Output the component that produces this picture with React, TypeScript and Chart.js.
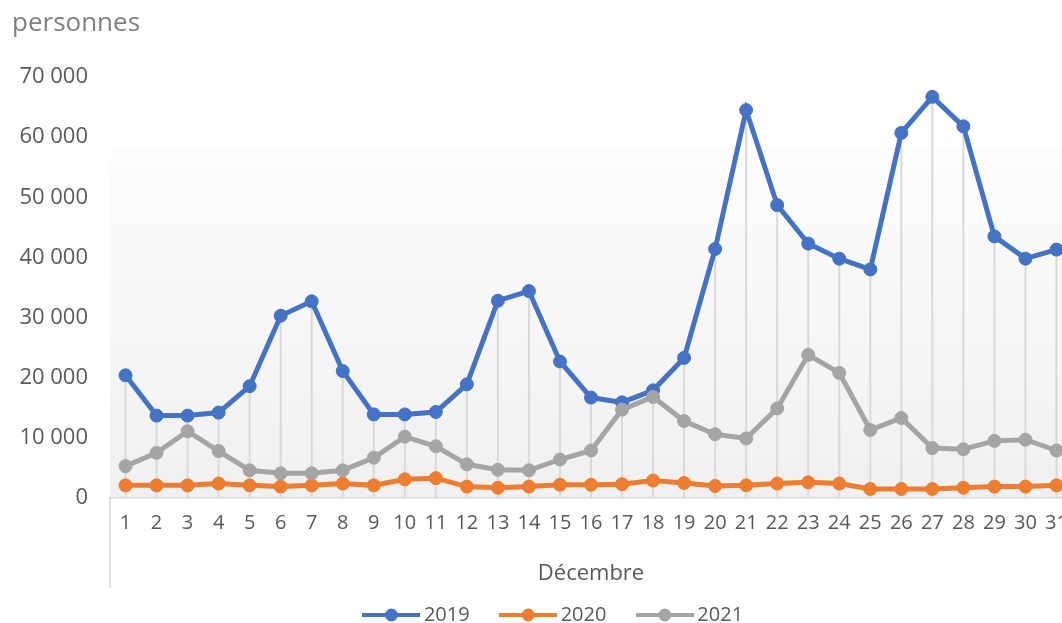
import React, { useEffect, useRef } from 'react';
import { Chart, registerables } from 'chart.js';

Chart.register(...registerables);

const days = ['1', '2', '3', '4', '5', '6', '7', '8', '9', '10', '11', '12', '13', '14', '15', '16', '17', '18', '19', '20', '21', '22', '23', '24', '25', '26', '27', '28', '29', '30', '31'];

const values2019 = [20400, 13700, 13700, 14200, 18600, 30300, 32700, 21100, 13900, 13900, 14300, 18900, 32800, 34400, 22700, 16700, 15900, 17900, 23300, 41400, 64500, 48700, 42300, 39800, 38000, 60700, 66700, 61800, 43500, 39800, 41300];
const values2020 = [2100, 2100, 2100, 2400, 2100, 1900, 2100, 2400, 2100, 3100, 3300, 1900, 1700, 1900, 2200, 2200, 2300, 2900, 2500, 2000, 2100, 2400, 2600, 2400, 1500, 1500, 1500, 1700, 1900, 1900, 2100];
const values2021 = [5300, 7500, 11100, 7800, 4600, 4100, 4100, 4600, 6700, 10200, 8600, 5600, 4700, 4600, 6400, 7900, 14700, 16800, 12800, 10600, 9900, 14900, 23800, 20800, 11300, 13300, 8300, 8100, 9500, 9700, 7900];

const seriesLabels = ['2019', '2020', '2021'];
const seriesColors = ['#4472C4', '#ED7D31', '#A5A5A5'];

const yTicksMax = 70000;
const yStep = 10000;

const FONT = "'Open Sans', 'DejaVu Sans', sans-serif";
const TEXT = '#595959';

function fmt(v: number): string {
  return String(v).replace(/\B(?=(\d{3})+(?!\d))/g, ' ');
}

function legendImage(color: string): HTMLCanvasElement {
  const c = document.createElement('canvas');
  c.width = 58;
  c.height = 16;
  const g = c.getContext('2d')!;
  g.strokeStyle = color;
  g.lineWidth = 4;
  g.beginPath();
  g.moveTo(0, 8);
  g.lineTo(58, 8);
  g.stroke();
  g.fillStyle = color;
  g.beginPath();
  g.arc(29, 8, 6.5, 0, Math.PI * 2);
  g.fill();
  return c;
}

const backgroundPlugin = {
  id: 'plotBg',
  beforeDraw(chart: any) {
    const { ctx, chartArea } = chart;
    const top = chartArea.top + (chartArea.bottom - chartArea.top) * 0.1714;
    const grad = ctx.createLinearGradient(0, top, 0, chartArea.bottom);
    grad.addColorStop(0, '#fdfdfd');
    grad.addColorStop(1, '#f0f0f0');
    ctx.save();
    ctx.fillStyle = grad;
    ctx.fillRect(chartArea.left, top, chartArea.right - chartArea.left, chartArea.bottom - top);
    ctx.strokeStyle = '#d9d9d9';
    ctx.lineWidth = 1.5;
    ctx.beginPath();
    ctx.moveTo(chartArea.left, chartArea.bottom);
    ctx.lineTo(chartArea.left, chartArea.bottom + 90);
    ctx.stroke();
    ctx.restore();
  },
};

const dropLinesPlugin = {
  id: 'dropLines',
  beforeDatasetsDraw(chart: any) {
    const { ctx } = chart;
    const x = chart.scales.x;
    const y = chart.scales.y;
    ctx.save();
    ctx.strokeStyle = '#d9d9d9';
    ctx.lineWidth = 2;
    days.forEach((_d, i) => {
      const maxV = Math.max(...chart.data.datasets.map((ds: any) => ds.data[i] as number));
      const px = x.getPixelForValue(i);
      ctx.beginPath();
      ctx.moveTo(px, y.getPixelForValue(maxV));
      ctx.lineTo(px, y.getPixelForValue(0));
      ctx.stroke();
    });
    ctx.restore();
  },
};

export default function App() {
  const ref = useRef<HTMLCanvasElement>(null);

  useEffect(() => {
    if (!ref.current) return;
    const images = seriesColors.map(legendImage);
    const allValues = [values2019, values2020, values2021];
    const chart = new Chart(ref.current, {
      type: 'line',
      data: {
        labels: days,
        datasets: allValues.map((vals, i) => ({
          label: seriesLabels[i],
          data: vals,
          order: allValues.length - 1 - i,
          borderColor: seriesColors[i],
          backgroundColor: seriesColors[i],
          pointBackgroundColor: seriesColors[i],
          pointBorderColor: seriesColors[i],
          borderWidth: 5,
          pointRadius: 6.5,
          pointBorderWidth: 1,
          tension: 0,
          fill: false,
        })),
      },
      options: {
        responsive: false,
        animation: false,
        layout: { padding: { left: 12, right: 0, top: 0, bottom: 0 } },
        scales: {
          x: {
            type: 'category',
            offset: true,
            grid: { display: false, drawTicks: false },
            border: { display: true, color: '#d9d9d9', width: 1.5 },
            ticks: {
              color: TEXT,
              font: { family: FONT, size: 20 },
              padding: 13,
              maxRotation: 0,
              autoSkip: false,
            },
            title: {
              display: true,
              text: 'Décembre',
              color: TEXT,
              font: { family: FONT, size: 22 },
              padding: { top: 12.8, bottom: -18.2 },
            },
          },
          y: {
            min: 0,
            max: yTicksMax,
            grid: { display: false, drawTicks: false },
            border: { display: false },
            ticks: {
              stepSize: yStep,
              color: TEXT,
              font: { family: FONT, size: 22 },
              padding: 22,
              callback: (v: any) => fmt(Number(v)),
            },
            afterFit: (s: any) => {
              s.width = 98;
            },
          },
          y2: {
            position: 'right',
            display: true,
            grid: { display: false, drawTicks: false },
            border: { display: false },
            ticks: { display: false },
            afterFit: (s: any) => {
              s.width = 28;
            },
          },
        },
        plugins: {
          tooltip: { enabled: false },
          title: {
            display: true,
            text: 'personnes',
            align: 'start',
            color: '#808080',
            font: { family: FONT, size: 26, weight: 'normal' },
            padding: { top: 8, bottom: 37.8 },
          },
          legend: {
            position: 'bottom',
            labels: {
              usePointStyle: true,
              pointStyleWidth: 45,
              padding: 36,
              color: TEXT,
              font: { family: FONT, size: 20 },
              generateLabels: (c: any) => {
                const items = Chart.defaults.plugins.legend.labels.generateLabels(c);
                return items
                  .slice()
                  .sort((a: any, b: any) => a.datasetIndex - b.datasetIndex)
                  .map((it: any) => ({ ...it, pointStyle: images[it.datasetIndex], rotation: 0 }));
              },
            },
          },
        },
      },
      plugins: [backgroundPlugin, dropLinesPlugin],
    } as any);
    return () => chart.destroy();
  }, []);

  return (
    <div style={{ position: 'fixed', left: 0, top: 0, width: 1062, height: 623, overflow: 'hidden', background: '#fff' }}>
      <canvas ref={ref} width={1100} height={635} style={{ display: 'block' }} />
    </div>
  );
}
